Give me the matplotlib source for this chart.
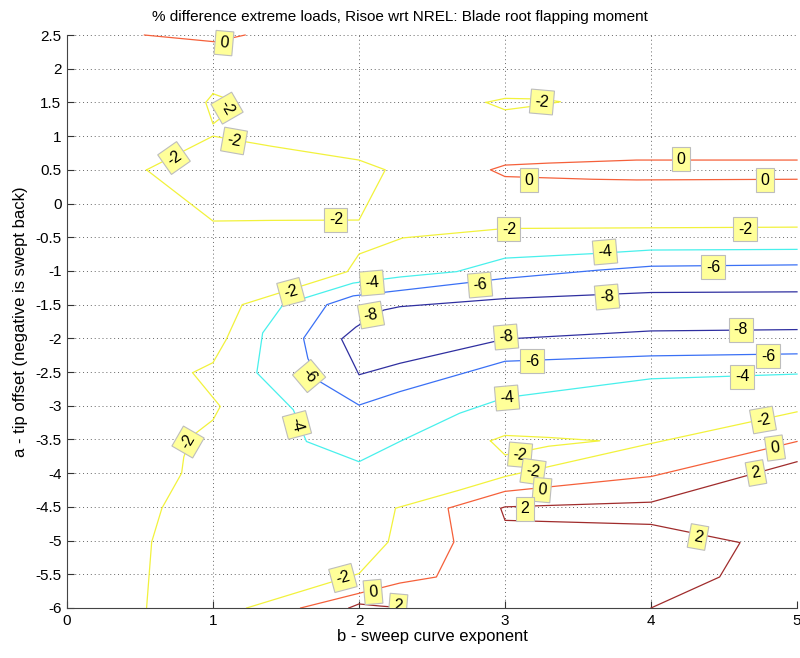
import matplotlib
matplotlib.use("Agg")
import matplotlib.pyplot as plt
from matplotlib.ticker import FormatStrFormatter, MultipleLocator

plt.rcParams['font.family'] = ['Liberation Sans', 'DejaVu Sans']
plt.rcParams['axes.unicode_minus'] = False

# contour polylines, one list pair per segment
lvl_0_top_x = [0.53, 1.01, 1.22]
lvl_0_top_y = [2.50, 2.40, 2.50]

lvl_m2_small_x = [1.00, 0.95, 1.00, 1.10, 1.10, 1.00]
lvl_m2_small_y = [1.63, 1.50, 1.18, 1.35, 1.55, 1.63]

lvl_m2_loop_x = [0.545, 1.00, 1.40, 2.00, 2.18, 2.00, 1.40, 1.00, 0.545]
lvl_m2_loop_y = [0.50, 1.00, 0.85, 0.645, 0.50, -0.245, -0.25, -0.26, 0.50]

lvl_m2_right_x = [2.87, 3.00, 3.25, 3.38, 3.25, 3.00, 2.87]
lvl_m2_right_y = [1.50, 1.56, 1.55, 1.51, 1.46, 1.39, 1.50]

lvl_0_loop_x = [5.00, 3.90, 3.30, 3.00, 2.90, 3.00, 3.30, 3.60, 3.90, 5.00]
lvl_0_loop_y = [0.645, 0.645, 0.60, 0.57, 0.50, 0.40, 0.38, 0.36, 0.35, 0.36]

lvl_m2_main_x = [5.00, 3.00, 2.30, 2.00, 1.92, 1.20, 1.09, 1.00, 0.86, 1.05, 1.00,
                 0.85, 0.80, 0.785, 0.65, 0.58, 0.545]
lvl_m2_main_y = [-0.35, -0.37, -0.51, -0.75, -1.01, -1.50, -2.02, -2.36, -2.51, -3.01,
                 -3.21, -3.46, -3.76, -4.00, -4.52, -5.02, -6.00]

lvl_m4_x = [5.00, 4.00, 3.63, 3.00, 2.67, 2.28, 1.96, 1.48, 1.34, 1.30, 1.55, 1.64,
            2.00, 2.28, 2.69, 3.00, 4.00, 5.00]
lvl_m4_y = [-0.68, -0.69, -0.74, -0.81, -1.01, -1.09, -1.18, -1.50, -1.92, -2.51,
            -3.06, -3.53, -3.83, -3.53, -3.11, -2.88, -2.60, -2.53]

lvl_m6_x = [5.00, 4.00, 3.63, 3.00, 2.28, 1.96, 1.78, 1.62, 1.65, 1.73, 2.00, 2.28,
            3.00, 4.00, 5.00]
lvl_m6_y = [-0.91, -0.93, -0.99, -1.11, -1.29, -1.37, -1.50, -2.00, -2.30, -2.64,
            -2.99, -2.79, -2.34, -2.26, -2.23]

lvl_m8_x = [5.00, 4.00, 3.00, 2.28, 2.17, 1.98, 1.88, 2.00, 2.28, 3.00, 4.00, 5.00]
lvl_m8_y = [-1.31, -1.32, -1.41, -1.53, -1.58, -1.83, -2.01, -2.54, -2.37, -2.01,
            -1.89, -1.87]

lvl_m2_low_loop_x = [2.90, 3.00, 3.30, 3.65, 3.30, 3.00, 2.90]
lvl_m2_low_loop_y = [-3.52, -3.44, -3.47, -3.52, -3.60, -3.73, -3.52]

lvl_m2_low_x = [5.00, 4.00, 3.00, 2.69, 2.25, 2.20, 2.00, 1.23]
lvl_m2_low_y = [-3.09, -3.56, -4.05, -4.25, -4.52, -5.02, -5.49, -6.00]

lvl_0_low_x = [5.00, 4.00, 3.00, 2.61, 2.65, 2.53, 2.28, 1.60]
lvl_0_low_y = [-3.53, -4.05, -4.27, -4.52, -5.02, -5.54, -5.63, -6.00]

lvl_2_x = [5.00, 4.00, 3.00, 2.97, 3.00, 4.00, 4.61, 4.47, 4.00]
lvl_2_y = [-3.83, -4.43, -4.50, -4.52, -4.70, -4.76, -5.03, -5.54, -6.00]

lvl_2_bottom_x = [1.93, 2.00, 2.14, 2.32]
lvl_2_bottom_y = [-6.00, -5.94, -5.97, -6.00]

# contour labels: text, position, angle
label_text = ['0', '-2', '-2', '-2', '-2', '-2', '-2', '0', '0', '0', '-2',
              '-4', '-6', '-6', '-8', '-4', '-2', '-8', '-6', '-4', '-2',
              '-8', '-6', '-8', '-6', '-4', '-4', '-2', '0', '2',
              '-2', '-2', '0', '2', '2', '-2', '0', '2']
label_x = [1.075, 1.096, 1.144, 0.733, 1.842, 3.027, 4.644, 4.205, 3.164, 4.781, 3.253,
           3.685, 4.425, 2.829, 3.699, 2.089, 1.534, 2.082, 1.658, 1.575, 0.829,
           3.007, 3.185, 4.616, 4.801, 4.623, 3.014, 4.767, 4.849, 4.719,
           3.103, 3.192, 3.253, 3.137, 4.322, 1.890, 2.096, 2.267]
label_y = [2.38, 1.415, 0.928, 0.675, -0.244, -0.378, -0.378, 0.66, 0.349, 0.349, 1.506,
           -0.719, -0.942, -1.209, -1.387, -1.179, -1.313, -1.654, -2.559, -3.285, -3.538,
           -1.98, -2.336, -1.876, -2.262, -2.573, -2.885, -3.211, -3.627, -3.998,
           -3.73, -3.98, -4.25, -4.53, -4.947, -5.555, -5.763, -5.97]
label_rot = [-5, -60, -10, 35, 0, 0, 0, 0, 0, 0, -5,
             5, 0, 5, 5, 5, 15, 10, -50, -75, 60,
             5, 0, 0, 0, 0, 5, 10, 8, 10,
             -5, -8, -5, 0, -10, 15, 5, -5]

colors = {'-8': '#2f2fa0', '-6': '#3a70f5', '-4': '#48f0ec',
          '-2': '#f2f23c', '0': '#f5603a', '2': '#a02c2c'}

segments = [
    ('0', lvl_0_top_x, lvl_0_top_y),
    ('-2', lvl_m2_small_x, lvl_m2_small_y),
    ('-2', lvl_m2_loop_x, lvl_m2_loop_y),
    ('-2', lvl_m2_right_x, lvl_m2_right_y),
    ('0', lvl_0_loop_x, lvl_0_loop_y),
    ('-2', lvl_m2_main_x, lvl_m2_main_y),
    ('-4', lvl_m4_x, lvl_m4_y),
    ('-6', lvl_m6_x, lvl_m6_y),
    ('-8', lvl_m8_x, lvl_m8_y),
    ('-2', lvl_m2_low_loop_x, lvl_m2_low_loop_y),
    ('-2', lvl_m2_low_x, lvl_m2_low_y),
    ('0', lvl_0_low_x, lvl_0_low_y),
    ('2', lvl_2_x, lvl_2_y),
    ('2', lvl_2_bottom_x, lvl_2_bottom_y),
]

fig = plt.figure(figsize=(8.0, 6.58), dpi=100)
ax = fig.add_axes([0.08375, 0.076, 0.9125, 0.8708])

for level, xs, ys in segments:
    ax.plot(xs, ys, color=colors[level], lw=0.9, clip_on=False, zorder=2)

for txt, x, y, r in zip(label_text, label_x, label_y, label_rot):
    ax.text(x, y, txt, fontsize=11.5, rotation=r, ha='center', va='center',
            rotation_mode='anchor', zorder=3, clip_on=(y < -5.9),
            bbox=dict(boxstyle='square,pad=0.28', fc='#ffff99', ec='#bdbdbd', lw=0.8))

ax.set_xlim(0, 5)
ax.set_ylim(-6, 2.5)
ax.xaxis.set_major_locator(MultipleLocator(1))
ax.yaxis.set_major_locator(MultipleLocator(0.5))
ax.yaxis.set_major_formatter(FormatStrFormatter('%g'))
ax.xaxis.set_major_formatter(FormatStrFormatter('%g'))
ax.grid(True, color='#666666', linestyle=(0, (1, 3)), lw=0.7)
ax.set_axisbelow(True)
for side in ['top', 'right']:
    ax.spines[side].set_visible(False)
for side in ['left', 'bottom']:
    ax.spines[side].set_color('#444444')
ax.tick_params(direction='in', length=5, labelsize=11, colors='#333333',
               labelcolor='black', pad=4)

# title sits centred on the figure, not the axes
fig.text(0.5, 0.974, '% difference extreme loads, Risoe wrt NREL: Blade root flapping moment',
         fontsize=11, ha='center', va='center')
ax.set_xlabel('b - sweep curve exponent', fontsize=12, labelpad=1)
ax.set_ylabel('a - tip offset (negative is swept back)', fontsize=12, labelpad=5)

fig.savefig('out.png', dpi=100, facecolor='white')
